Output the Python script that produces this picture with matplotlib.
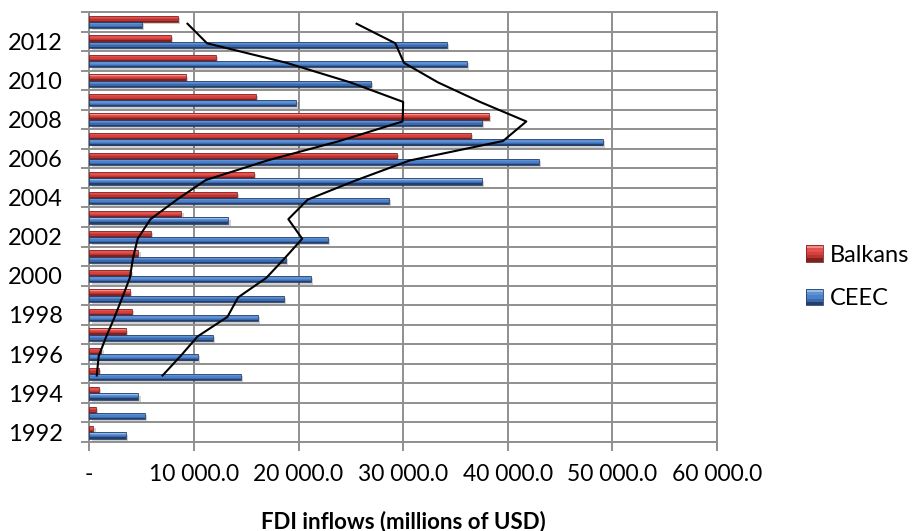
import numpy as np
import pandas as pd
import matplotlib
matplotlib.use("Agg")
import matplotlib.pyplot as plt
import matplotlib.transforms as mtransforms
from matplotlib.legend_handler import HandlerBase
from matplotlib.patches import Rectangle

# FDI inflows, millions of USD
years = list(range(1992, 2014))
balkans = [400, 600, 900, 950, 1150, 3500, 4100, 3900, 4000, 4700, 5900,
           8800, 14100, 15700, 29400, 36500, 38200, 15900, 9200, 12100, 7800, 8450]
ceec = [3500, 5300, 4700, 14500, 10400, 11800, 16100, 18600, 21200, 18800, 22800,
        13300, 28600, 37500, 43000, 49100, 37500, 19800, 26900, 36100, 34200, 5000]
series_names = ["Balkans", "CEEC"]
x_ticks = [0, 10000, 20000, 30000, 40000, 50000, 60000]
x_tick_labels = ["-", "10 000.0", "20 000.0", "30 000.0", "40 000.0", "50 000.0", "60 000.0"]
year_labels = [str(y) for y in years[::2]]

FONT = "Lato"
plt.rcParams["font.family"] = [FONT, "DejaVu Sans"]

grid_col = "#8f8f8f"
red_grad = ["#f58b88", "#e6504d", "#d4413e", "#b83431", "#7d2220"]
blue_grad = ["#95bbea", "#5e92d8", "#4c80c9", "#3c69ab", "#243f6a"]

fig = plt.figure(figsize=(9.14, 5.31), dpi=100)
ax = fig.add_axes([89.3 / 914, 1 - 442 / 531, (717 - 89.3) / 914, 430 / 531])

pos = np.arange(len(years))
bar_h = 0.32


def gradient_bars(values, centre, grad):
    # soft drop shadow under each bar
    shadow_tr = mtransforms.offset_copy(ax.transData, fig=fig, x=1.6, y=-1.6, units="points")
    ax.barh(centre, values, height=bar_h, color="#000000", alpha=0.18,
            transform=shadow_tr, zorder=2, linewidth=0)
    n = len(grad)
    step = bar_h / n
    for k, c in enumerate(grad):
        off = bar_h / 2 - step * (k + 0.5)
        ax.barh(centre + off, values, height=step * 1.02, color=c, linewidth=0, zorder=3)
    ax.barh(centre, values, height=bar_h, fill=False, edgecolor=grad[-1],
            linewidth=0.6, zorder=4)


gradient_bars(balkans, pos + bar_h / 2 - 0.01, red_grad)
gradient_bars(ceec, pos - bar_h / 2 - 0.01, blue_grad)

# 4-period moving-average trendlines
ma_b = pd.Series(balkans, index=pos).rolling(4).mean().dropna()
ma_c = pd.Series(ceec, index=pos).rolling(4).mean().dropna()
ax.plot(ma_b.values, ma_b.index - 0.1, color="black", lw=1.5, zorder=5)
ax.plot(ma_c.values, ma_c.index - 0.1, color="black", lw=1.5, zorder=5)

ax.set_xlim(0, 60000)
ax.set_ylim(-0.5, len(years) - 0.5)

ax.set_xticks(x_ticks)
ax.set_xticklabels(x_tick_labels, fontsize=16.5)
ax.set_yticks(pos[::2])
ax.set_yticklabels(year_labels, fontsize=17)
ax.set_yticks(np.arange(-0.5, len(years)), minor=True)

ax.tick_params(axis="x", which="major", direction="out", length=6.5, width=1.4,
               color=grid_col, pad=9.5)
ax.tick_params(axis="y", which="major", length=0, pad=19)
ax.tick_params(axis="y", which="minor", direction="out", length=6, width=1.4,
               color=grid_col)

ax.grid(True, axis="x", which="major", color=grid_col, lw=1.4, zorder=1)
ax.grid(True, axis="y", which="minor", color=grid_col, lw=1.4, zorder=1)
ax.set_axisbelow(True)
for s in ax.spines.values():
    s.set_color(grid_col)
    s.set_linewidth(1.4)

ax.set_xlabel("FDI inflows (millions of USD)", fontsize=16, fontweight="bold", labelpad=18)


class GradientSquare(HandlerBase):
    def __init__(self, grad):
        super().__init__()
        self.grad = grad

    def create_artists(self, legend, orig_handle, xdescent, ydescent, width,
                       height, fontsize, trans):
        side = min(width, height)
        x0 = -xdescent + (width - side) / 2
        y0 = -ydescent + (height - side) / 2
        n = len(self.grad)
        arts = []
        for k, c in enumerate(self.grad):
            arts.append(Rectangle((x0, y0 + side - side / n * (k + 1)), side, side / n * 1.02,
                                  facecolor=c, edgecolor="none", transform=trans))
        arts.append(Rectangle((x0, y0), side, side, facecolor="none",
                              edgecolor=self.grad[-1], lw=0.6, transform=trans))
        return arts


h_b = Rectangle((0, 0), 1, 1)
h_c = Rectangle((0, 0), 1, 1)
fig.legend([h_b, h_c], series_names,
           handler_map={h_b: GradientSquare(red_grad), h_c: GradientSquare(blue_grad)},
           loc="center left", bbox_to_anchor=(806 / 914, 1 - 277 / 531),
           frameon=False, fontsize=17, handlelength=0.7, handleheight=0.7,
           handletextpad=0.3, labelspacing=0.95, borderpad=0, borderaxespad=0)

fig.savefig("out.png", dpi=100)
